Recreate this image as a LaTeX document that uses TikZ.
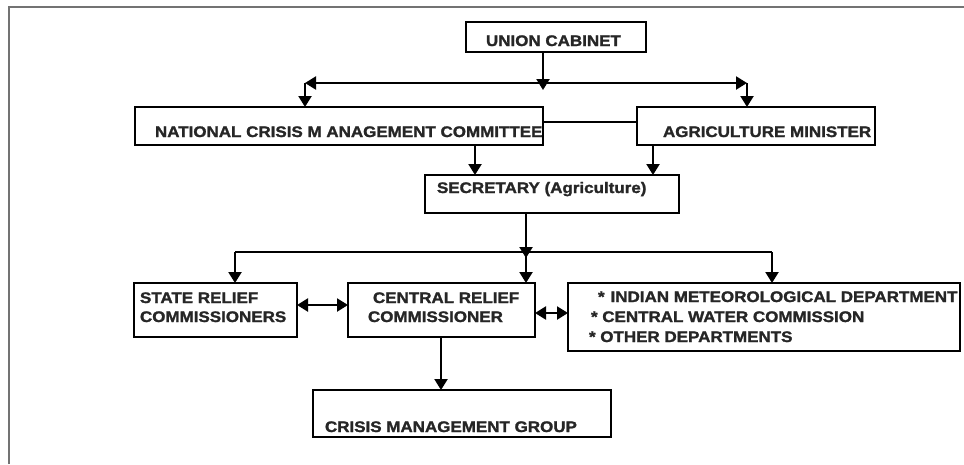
\documentclass[tikz,border=0pt]{standalone}
\usepackage{fontspec}
\newfontfamily\lblfont{Liberation Sans Bold}[FakeStretch=1.11, FakeBold=1.6]
\usetikzlibrary{arrows.meta}
\begin{document}
\begin{tikzpicture}[x=1pt,y=-1pt,
  box/.style={draw=black, line width=2.6pt, rectangle, inner sep=0pt, outer sep=0pt, anchor=north west},
  lbl/.style={anchor=base west, inner sep=0pt, outer sep=0pt, font=\fontsize{15.3}{19}\lblfont, text=black!85},
  wire/.style={line width=2.2pt, black},
  conn/.style={wire, -{Triangle[width=13pt,length=11pt]}},
  dbl/.style={wire, {Triangle[width=13pt,length=11pt]}-{Triangle[width=13pt,length=11pt]}}]
\useasboundingbox (0,0) rectangle (964,464);
% frame
\draw[line width=1.2pt, black!55] (9,464) -- (9,7) -- (964,7);

% boxes
\node[box, minimum width=180pt, minimum height=30pt] (uc) at (466,22) {};
\node[box, minimum width=408pt, minimum height=38pt] (ncmc) at (135,107) {};
\node[box, minimum width=238pt, minimum height=38pt] (agm) at (637,107) {};
\node[box, minimum width=254pt, minimum height=38pt] (sec) at (425,175) {};
\node[box, minimum width=163pt, minimum height=54pt] (src) at (134,283) {};
\node[box, minimum width=187pt, minimum height=54pt] (crc) at (348,283) {};
\node[box, minimum width=392pt, minimum height=68pt] (imd) at (568,283) {};
\node[box, minimum width=298pt, minimum height=47pt] (cmg) at (313,390) {};

% texts
\node[lbl] (uct) at (486,46) {UNION CABINET};
\begin{scope}
\clip (ncmc.north west) rectangle ([xshift=-1pt]ncmc.south east);
\node[lbl] (ncmct) at (155,137) {NATIONAL CRISIS M ANAGEMENT COMMITTEE};
\end{scope}
\begin{scope}
\clip (agm.north west) rectangle ([xshift=-1pt]agm.south east);
\node[lbl] (agmt) at (663,137) {AGRICULTURE MINISTER};
\end{scope}
\node[lbl] (sect) at (437,193) {SECRETARY (Agriculture)};
\node[lbl] (srct1) at (140,303) {STATE RELIEF};
\node[lbl] (srct2) at (140,322) {COMMISSIONERS};
\node[lbl] (crct1) at (373,303) {CENTRAL RELIEF};
\node[lbl] (crct2) at (368,322) {COMMISSIONER};
\begin{scope}
\clip (imd.north west) rectangle ([xshift=-1pt]imd.south east);
\node[lbl] (imdt1) at (598,302) {*\hspace{6pt}INDIAN METEOROLOGICAL DEPARTMENT};
\end{scope}
\node[lbl] (imdt2) at (591,322) {* CENTRAL WATER COMMISSION};
\node[lbl] (imdt3) at (589,342) {* OTHER DEPARTMENTS};
\node[lbl] (cmgt) at (325,432) {CRISIS MANAGEMENT GROUP};

% junction coordinates
\coordinate (j1) at (543,83);
\coordinate (tl) at (305,83);
\coordinate (tr) at (747,83);
\coordinate (lk) at (590,122);
\coordinate (xa) at (475,160);
\coordinate (xb) at (653,160);
\coordinate (j2) at (526,252);
\coordinate (dl) at (235,252);
\coordinate (dr) at (772,252);
\coordinate (a1) at (320,305);
\coordinate (a2) at (550,313);
\coordinate (c1) at (441,360);

% connectors
\draw[conn] (uc.south -| j1) -- ([yshift=-7pt]j1);
\draw[dbl] (tl) -- (tr);
\draw[conn] (tl) -- (tl |- ncmc.north);
\draw[conn] (tr) -- (tr |- agm.north);
\draw[wire] (ncmc.east |- lk) -- (agm.west |- lk);
\draw[conn] (ncmc.south -| xa) -- (sec.north -| xa);
\draw[conn] (agm.south -| xb) -- (sec.north -| xb);
\draw[conn] (sec.south -| j2) -- ([yshift=-6pt]j2);
\draw[wire] (dl) -- (dr);
\draw[conn] (j2) -- (crc.north -| j2);
\draw[conn] (dl) -- (dl |- src.north);
\draw[conn] (dr) -- (dr |- imd.north);
\draw[dbl] (src.east |- a1) -- (crc.west |- a1);
\draw[dbl] (crc.east |- a2) -- (imd.west |- a2);
\draw[conn] (crc.south -| c1) -- (cmg.north -| c1);
\end{tikzpicture}
\end{document}
